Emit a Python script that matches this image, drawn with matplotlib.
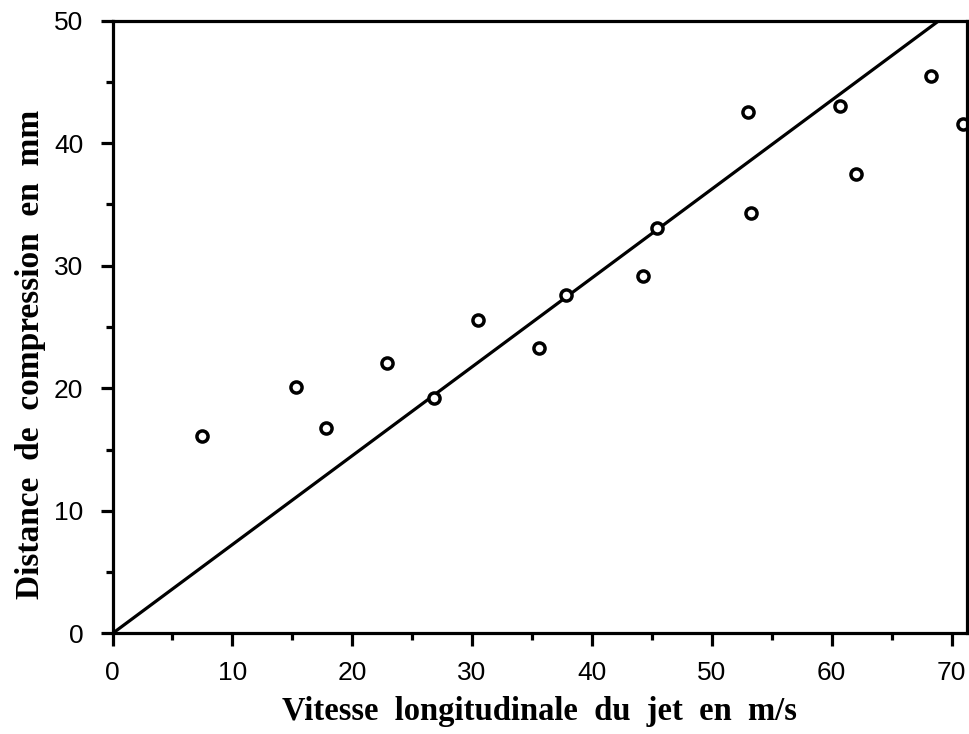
import numpy as np
import matplotlib.pyplot as plt
from matplotlib.ticker import MultipleLocator

# Measured jet velocity (m/s) and compression distance (mm)
vitesse = [7.5, 15.3, 17.8, 22.9, 26.8, 30.5, 35.6, 37.8, 44.3, 45.4,
           53.0, 53.3, 60.7, 62.0, 68.3, 71.0]
distance = [16.1, 20.1, 16.8, 22.1, 19.2, 25.6, 23.3, 27.6, 29.2, 33.1,
            42.5, 34.3, 43.0, 37.5, 45.5, 41.6]

# Fitted proportional law through the origin
pente = 0.725

fig = plt.figure(figsize=(9.7, 7.34), dpi=100)
ax = fig.add_axes([0.116, 0.137, 0.881, 0.835])

x_fit = np.array([0, 50 / pente])
ax.plot(x_fit, pente * x_fit, color='black', linewidth=2.3, solid_capstyle='butt')
ax.plot(vitesse, distance, linestyle='none', marker='o', markersize=8,
        markerfacecolor='white', markeredgecolor='black', markeredgewidth=2.5,
        clip_on=False)

ax.set_xlim(0, 71.3)
ax.set_ylim(0, 50)
ax.xaxis.set_major_locator(MultipleLocator(10))
ax.xaxis.set_minor_locator(MultipleLocator(5))
ax.yaxis.set_major_locator(MultipleLocator(10))
ax.yaxis.set_minor_locator(MultipleLocator(5))

for s in ax.spines.values():
    s.set_linewidth(2.3)
ax.tick_params(which='major', direction='out', length=9, width=2.3)
ax.tick_params(which='minor', direction='out', length=5, width=2.3)
ax.tick_params(axis='x', which='major', pad=11)
ax.tick_params(axis='y', which='major', pad=12)
for lab in ax.get_xticklabels() + ax.get_yticklabels():
    lab.set_family('Liberation Sans')
    lab.set_fontsize(19)

ax.set_xlabel('Vitesse  longitudinale  du  jet  en  m/s', family='Liberation Serif',
              fontweight='bold', fontsize=23.5, labelpad=8)
ax.set_ylabel('Distance  de  compression  en  mm', family='Liberation Serif',
              fontweight='bold', fontsize=24)
ax.yaxis.set_label_coords(-0.078, 0.455)

fig.savefig('out.png', dpi=100)
